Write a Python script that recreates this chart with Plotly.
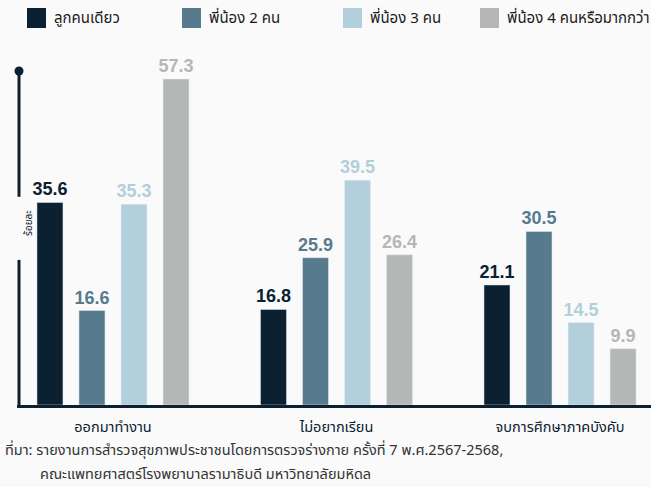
import plotly.graph_objects as go

categories = ["ออกมาทำงาน", "ไม่อยากเรียน", "จบการศึกษาภาคบังคับ"]
series_names = ["ลูกคนเดียว", "พี่น้อง 2 คน", "พี่น้อง 3 คน", "พี่น้อง 4 คนหรือมากกว่า"]
only_child = [35.6, 16.8, 21.1]
siblings_2 = [16.6, 25.9, 30.5]
siblings_3 = [35.3, 39.5, 14.5]
siblings_4plus = [57.3, 26.4, 9.9]
colors = ["#0b2131", "#577a8d", "#b3cfdc", "#b5b6b6"]
y_label = "ร้อยละ"
source_lines = ["ที่มา: รายงานการสำรวจสุขภาพประชาชนโดยการตรวจร่างกาย ครั้งที่ 7 พ.ศ.2567-2568,",
                "คณะแพทยศาสตร์โรงพยาบาลรามาธิบดี มหาวิทยาลัยมหิดล"]

W, H = 651, 487
ML, MR, MT, MB = 17, 0, 60, 82
PW = W - ML - MR
PH = H - MT - MB
YMAX = 60.64

fig = go.Figure()
all_series = [only_child, siblings_2, siblings_3, siblings_4plus]
for name, vals, col in zip(series_names, all_series, colors):
    fig.add_trace(go.Bar(
        x=categories, y=vals, name=name, marker_color=col,
        texttemplate="%{y:.1f}", textposition="outside", constraintext="none",
        outsidetextfont=dict(family="Liberation Sans, Arial", size=18, color=col, weight="bold"),
        cliponaxis=False, showlegend=False,
    ))

font_th = "Noto Sans Thai, Tahoma, Noto Sans, sans-serif"
dark = "#0b2131"

# manual legend
leg_sq_x = [27, 182, 343, 480]
for xs, name, col in zip(leg_sq_x, series_names, colors):
    fig.add_shape(type="rect", xref="paper", yref="paper",
                  x0=(xs - ML) / PW, x1=(xs + 19 - ML) / PW,
                  y0=1 + (MT - 28) / PH, y1=1 + (MT - 8) / PH,
                  fillcolor=col, line_width=0)
    fig.add_annotation(xref="paper", yref="paper", x=(xs + 25 - ML) / PW, y=1 + (MT - 18) / PH,
                       text=name, showarrow=False, xanchor="left", yanchor="middle",
                       font=dict(family=font_th, size=15, color="#1a1a1a"))

# vertical axis line with gap and label
px2data = YMAX / PH
lx = (19 - ML) / PW
fig.add_shape(type="line", xref="paper", yref="y", x0=lx, x1=lx, y0=0, y1=25.5,
              line=dict(color=dark, width=3))
fig.add_shape(type="line", xref="paper", yref="y", x0=lx, x1=lx, y0=36.6, y1=58.7,
              line=dict(color=dark, width=3))
fig.add_shape(type="circle", xref="paper", yref="y",
              x0=(19 - 4.5 - ML) / PW, x1=(19 + 4.5 - ML) / PW,
              y0=58.7 - 4.5 * px2data, y1=58.7 + 4.5 * px2data,
              fillcolor=dark, line_width=0)
fig.add_annotation(xref="paper", yref="y", x=lx, y=32.0, text=y_label, textangle=-90,
                   showarrow=False, font=dict(family=font_th, size=10, color=dark))

# source
fig.add_annotation(xref="paper", yref="paper", x=(3 - ML) / PW, y=-(451 - H + MB) / PH,
                   text=source_lines[0], showarrow=False, xanchor="left", yanchor="middle",
                   font=dict(family=font_th, size=14.5, color="#333333"))
fig.add_annotation(xref="paper", yref="paper", x=(38 - ML) / PW, y=-(475 - H + MB) / PH,
                   text=source_lines[1], showarrow=False, xanchor="left", yanchor="middle",
                   font=dict(family=font_th, size=14.5, color="#333333"))

fig.update_layout(
    width=W, height=H, margin=dict(l=ML, r=MR, t=MT, b=MB, pad=0),
    paper_bgcolor="#fafafa", plot_bgcolor="#fafafa",
    barmode="group", bargap=0.248, bargroupgap=0.381,
    xaxis=dict(range=[-0.4295, 2.407], showline=True, linecolor=dark, linewidth=3,
               showgrid=False, ticks="", ticklabelstandoff=7,
               tickfont=dict(family=font_th, size=14.5, color=dark)),
    yaxis=dict(range=[0, YMAX], visible=False, showgrid=False),
    showlegend=False,
)
fig.write_html("out.html", config={"displayModeBar": False},
               post_script="document.body.style.margin='0';document.body.style.overflow='hidden';")
